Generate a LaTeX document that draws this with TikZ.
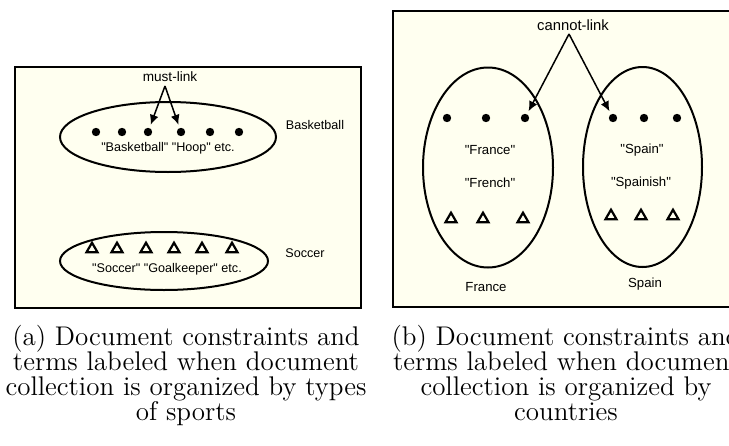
\documentclass[tikz,border=0pt]{standalone}
\usepackage{fontspec}
\newfontfamily\diagfont{Liberation Sans}
\usetikzlibrary{arrows.meta,shapes.geometric}
\newdimen\pxu \pxu=0.5pt
\definecolor{panelbg}{RGB}{255,255,240}
\tikzset{
  panel/.style={draw=black, line width=1pt, fill=panelbg},
  cluster/.style={draw=black, line width=1pt, ellipse, inner sep=0pt},
  termdot/.style={circle, fill=black, inner sep=0pt, minimum size=4.2pt},
  termtri/.style={regular polygon, regular polygon sides=3, draw=black,
    line width=1.1pt, inner sep=0pt, minimum size=6.3pt},
  lbla/.style={font=\diagfont\fontsize{6.3}{7.3}\selectfont, inner sep=0pt},
  lblb/.style={font=\diagfont\fontsize{6.6}{7.6}\selectfont, inner sep=0pt},
  link/.style={line width=0.75pt, -{Latex[length=5pt,width=4.5pt]}},
  captext/.style={font=\fontsize{13.5}{14}\selectfont, inner sep=0pt, anchor=base},
}
\begin{document}
\begin{tikzpicture}[x=0.5pt, y=-0.5pt]
\useasboundingbox (0,0) rectangle (729,445);

% ---------- panel (a): sports ----------
\draw[panel] (15,67) rectangle (361,308);
\node[cluster, minimum width=216*\pxu, minimum height=70*\pxu] (bball) at (168,137) {};
\node[cluster, minimum width=208*\pxu, minimum height=58*\pxu] (soccer) at (164,261) {};

\foreach \x [count=\i] in {96,122,148,181,210,239}
  \node[termdot] (ad\i) at (\x,132) {};
\foreach \x [count=\i] in {92,117,146,174,202,232}
  \node[termtri] (at\i) at (\x,249) {};

\node[lbla] (bterms) at (168,148) {"Basketball" "Hoop" etc.};
\node[lbla] (sterms) at (167,269) {"Soccer" "Goalkeeper" etc.};
\node[lbla] (blabel) at (315,125) {Basketball};
\node[lbla] (slabel) at (305,253) {Soccer};

\node[lbla, font=\diagfont\fontsize{6.8}{7.8}\selectfont] (must) at (170,77) {must-link};
\coordinate (mustapex) at (165,86);
\draw[link, shorten >=1.5pt] (mustapex) -- (ad3);
\draw[link, shorten >=1.5pt] (mustapex) -- (ad4);

% ---------- panel (b): countries ----------
\draw[panel] (393,11) rectangle (740,307);
\node[cluster, minimum width=130*\pxu, minimum height=200*\pxu] (france) at (488,167.5) {};
\node[cluster, minimum width=119*\pxu, minimum height=200*\pxu] (spain) at (642.5,167) {};

\foreach \x [count=\i] in {447,486,525}
  \node[termdot] (fd\i) at (\x,118) {};
\foreach \x [count=\i] in {613,644,677}
  \node[termdot] (sd\i) at (\x,118) {};
\foreach \x [count=\i] in {451,483,523}
  \node[termtri] (ft\i) at (\x,219) {};
\foreach \x [count=\i] in {611,641,673}
  \node[termtri] (st\i) at (\x,216) {};

\node[lblb] (fr1) at (490,150) {"France"};
\node[lblb] (fr2) at (490,183) {"French"};
\node[lblb] (sp1) at (642,150) {"Spain"};
\node[lblb] (sp2) at (641,183) {"Spainish"};
\node[lblb] (frlabel) at (486,287) {France};
\node[lblb] (splabel) at (645,284) {Spain};

\node[lblb, font=\diagfont\fontsize{7.4}{8.5}\selectfont] (cannot) at (573,25) {cannot-link};
\coordinate (cannotapex) at (569,34);
\draw[link, shorten >=1.5pt] (cannotapex) -- (fd3);
\draw[link, shorten >=1.5pt] (cannotapex) -- (sd1);

% ---------- captions ----------
\node[captext] (ca1) at (186,345) {(a) Document constraints and};
\node[captext] (ca2) at (186,370) {terms labeled when document};
\node[captext] (ca3) at (186,395) {collection is organized by types};
\node[captext] (ca4) at (186,420) {of sports};

\node[captext] (cb1) at (566,345) {(b) Document constraints and};
\node[captext] (cb2) at (566,370) {terms labeled when document};
\node[captext] (cb3) at (566,395) {collection is organized by};
\node[captext] (cb4) at (566,420) {countries};
\end{tikzpicture}
\end{document}
